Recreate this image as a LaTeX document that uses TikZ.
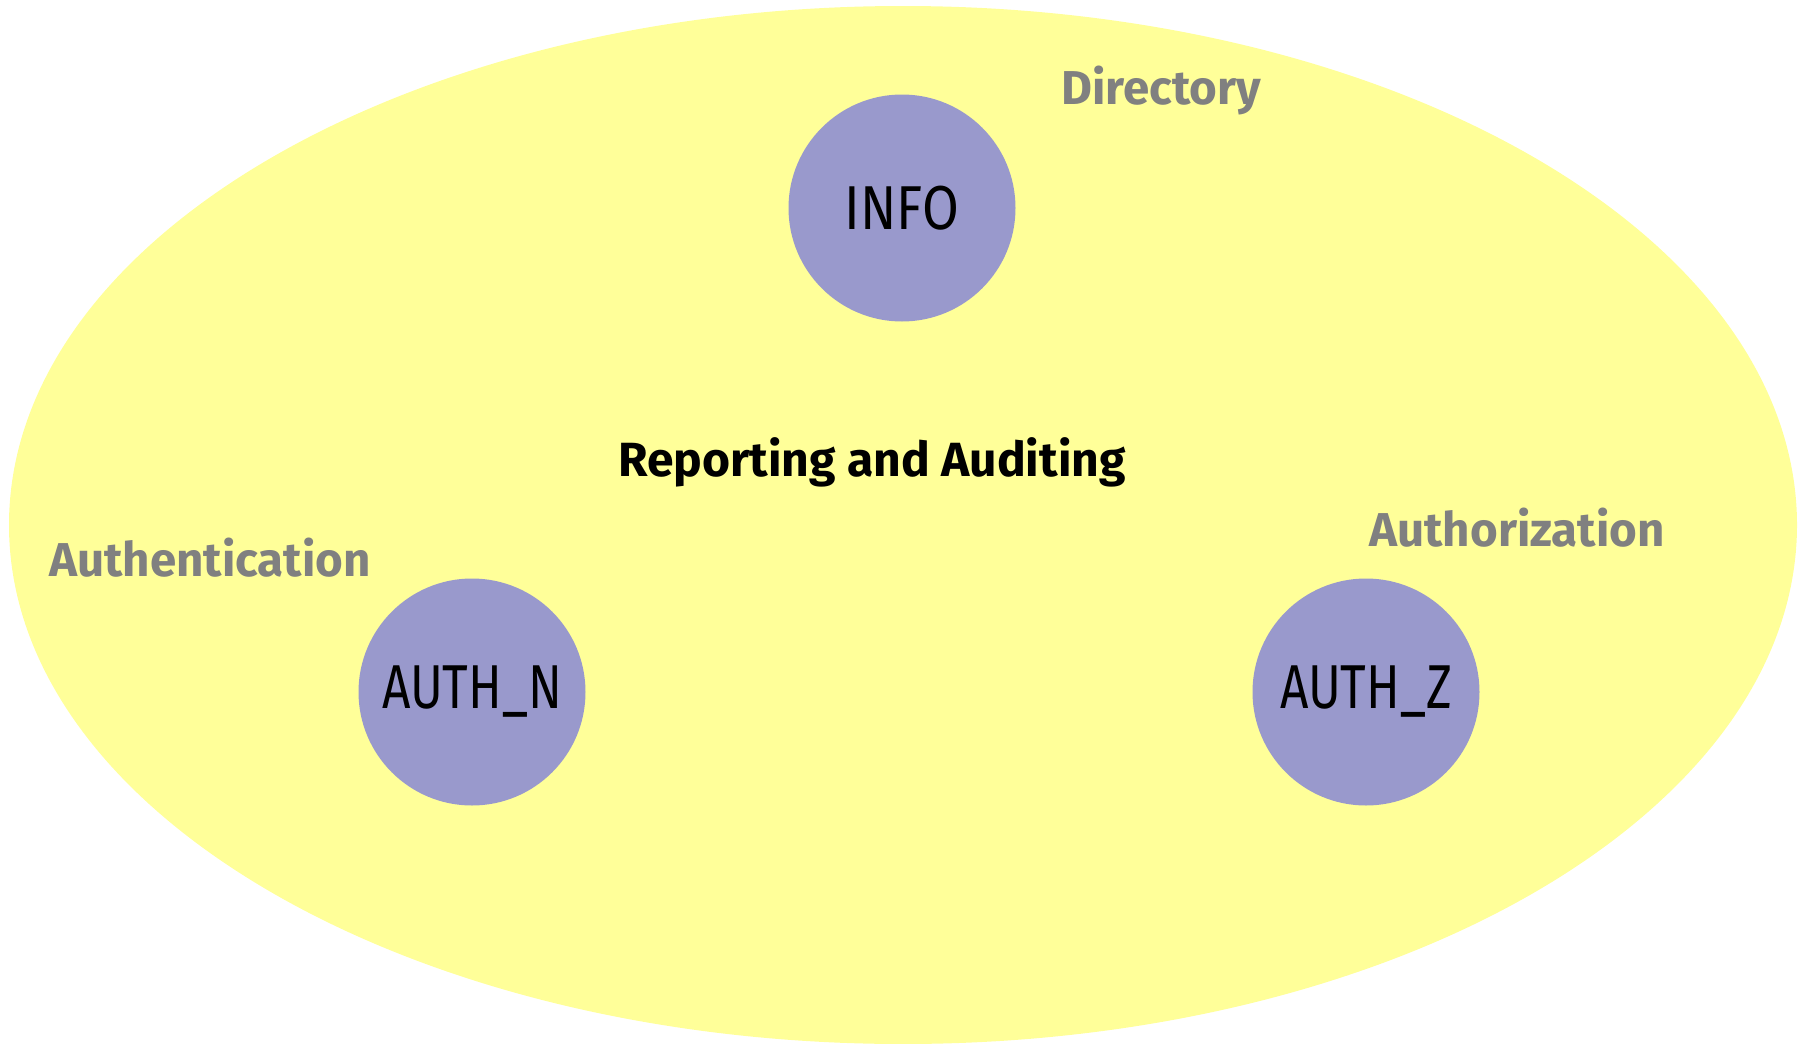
\documentclass[tikz,border=0pt]{standalone}
\usepackage{fontspec}
\setmainfont{Fira Sans}
\usepackage{xcolor}
\usepackage{tikz}
\definecolor{domainyellow}{HTML}{FFFF99}
\definecolor{servicelilac}{HTML}{9999CC}
\definecolor{labelgray}{HTML}{808080}

\tikzset{
  service/.style={circle,fill=servicelilac,minimum size=227pt,inner sep=0pt,
    font=\fontsize{62}{66}\selectfont},
  area/.style={text=labelgray,font=\fontsize{47.5}{52}\selectfont\bfseries},
}

\begin{document}
\begin{tikzpicture}[x=1pt,y=-1pt]
  \useasboundingbox (0,0) rectangle (1808,1044);
  \fill[domainyellow] (903,525) ellipse [x radius=894pt,y radius=519pt];
  \node[service] (info) at (902,208) {\scalebox{0.86}[1]{INFO}};
  \node[service] (authn) at (472,692) {\scalebox{0.8}[1]{AUTH\_N}};
  \node[service] (authz) at (1366,692) {\scalebox{0.8}[1]{AUTH\_Z}};
  \node[area] (dir) at (1161,91) {Directory};
  \node[area] (authnlbl) at (210,558) {Authentication};
  \node[area] (authzlbl) at (1517,528) {Authorization};
  \node[font=\fontsize{48}{52}\selectfont\bfseries] (report) at (872,462) {Reporting and Auditing};
\end{tikzpicture}
\end{document}
